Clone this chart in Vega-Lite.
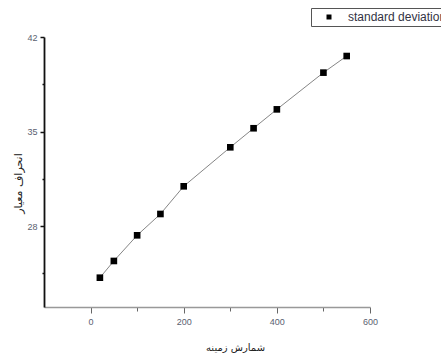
{
  "$schema": "https://vega.github.io/schema/vega-lite/v6.json",
  "width": 326,
  "height": 270,
  "autosize": {"type": "none"},
  "padding": {"left": 44, "top": 37, "right": 71, "bottom": 51},
  "background": "white",
  "config": {"view": {"stroke": null}},
  "data": {
    "values": [
      {"count": 20, "sd": 24.17, "series": "standard deviation"},
      {"count": 50, "sd": 25.41, "series": "standard deviation"},
      {"count": 100, "sd": 27.31, "series": "standard deviation"},
      {"count": 150, "sd": 28.89, "series": "standard deviation"},
      {"count": 200, "sd": 30.94, "series": "standard deviation"},
      {"count": 300, "sd": 33.83, "series": "standard deviation"},
      {"count": 350, "sd": 35.24, "series": "standard deviation"},
      {"count": 400, "sd": 36.64, "series": "standard deviation"},
      {"count": 500, "sd": 39.36, "series": "standard deviation"},
      {"count": 550, "sd": 40.59, "series": "standard deviation"}
    ]
  },
  "encoding": {
    "x": {
      "field": "count",
      "type": "quantitative",
      "scale": {"domain": [-100, 600], "nice": false, "zero": false},
      "axis": {
        "title": "شمارش زمینه",
        "values": [0, 100, 200, 300, 400, 500, 600],
        "labelExpr": "datum.value % 200 == 0 ? datum.label : ''",
        "tickSize": {"condition": {"test": "datum.value % 200 == 0", "value": 6}, "value": 4},
        "grid": false,
        "domainColor": "#999",
        "domainWidth": 1.5,
        "tickColor": "#666",
        "tickWidth": 1,
        "labelFont": "Liberation Sans",
        "labelFontSize": 9,
        "labelColor": "#5a6170",
        "labelPadding": 4,
        "labelFlush": false,
        "titleFont": "DejaVu Sans",
        "titleFontSize": 10,
        "titleFontWeight": "normal",
        "titleColor": "#222",
        "titleX": 191,
        "titlePadding": 16
      }
    },
    "y": {
      "field": "sd",
      "type": "quantitative",
      "scale": {"domain": [22, 42], "nice": false, "zero": false},
      "axis": {
        "title": "انحراف معیار",
        "values": [24.5, 28, 31.5, 35, 38.5, 42],
        "labelExpr": "datum.value % 7 == 0 ? datum.label : ''",
        "tickSize": {"condition": {"test": "datum.value % 7 == 0", "value": 4}, "value": 2},
        "grid": false,
        "domainColor": "#111",
        "domainWidth": 1.8,
        "tickColor": "#111",
        "tickWidth": 1.5,
        "labelFont": "Liberation Sans",
        "labelFontSize": 9,
        "labelColor": "#5a6170",
        "labelPadding": 3,
        "titleFont": "DejaVu Sans",
        "titleFontSize": 11,
        "titleFontWeight": "normal",
        "titleColor": "#222",
        "titleAngle": -90,
        "titleAlign": "center",
        "titleBaseline": "middle",
        "titleX": -26,
        "titleY": 146
      }
    }
  },
  "layer": [
    {"mark": {"type": "line", "color": "#777", "strokeWidth": 0.9}},
    {
      "mark": {"type": "point", "filled": true, "color": "black", "size": 44, "opacity": 1},
      "encoding": {
        "shape": {
          "field": "series",
          "type": "nominal",
          "scale": {"range": ["square"]},
          "legend": {
            "orient": "none",
            "legendX": 267,
            "legendY": -29,
            "title": null,
            "strokeColor": "#555",
            "fillColor": "white",
            "padding": 3,
            "symbolOffset": 9,
            "symbolSize": 25,
            "symbolType": "square",
            "symbolFillColor": "black",
            "symbolStrokeColor": "black",
            "labelFont": "Liberation Sans",
            "labelFontSize": 12,
            "labelColor": "#334",
            "labelOffset": 13
          }
        }
      }
    }
  ]
}
